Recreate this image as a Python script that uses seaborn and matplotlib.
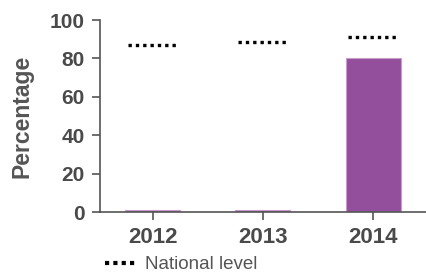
import matplotlib
matplotlib.use("Agg")
import matplotlib.pyplot as plt
import seaborn as sns
import pandas as pd
import numpy as np
from matplotlib.lines import Line2D

years = ["2012", "2013", "2014"]
values = [1, 1, 80]
national = [87, 88.5, 91]

sns.set_theme(style="white")
plt.rcParams['font.family'] = ['Liberation Sans', 'DejaVu Sans']

df = pd.DataFrame({"year": years, "value": values})

fig = plt.figure(figsize=(4.27, 2.73), dpi=100)
ax = fig.add_axes([100/427, 1 - 212/273, 1 - 100/427, (212 - 20)/273])

sns.barplot(data=df, x="year", y="value", color="#944f9c", width=0.5,
            edgecolor="#c79ccb", linewidth=0.8, saturation=1, ax=ax)

pos = np.arange(len(years))
ax.hlines(national, pos - 0.23, pos + 0.23, colors="black",
          linestyles=(0, (1, 1.2)), linewidth=2.4)

ax.set_ylim(0, 100)
ax.set_xlim(-0.48, 2.49)
ax.set_yticks([0, 20, 40, 60, 80, 100])
ax.set_xlabel("")
ax.set_ylabel("Percentage", fontsize=16.5, fontweight="bold", color="#555555", labelpad=12)

for s in ["top", "right"]:
    ax.spines[s].set_visible(False)
for s in ["left", "bottom"]:
    ax.spines[s].set_color("#555555")
    ax.spines[s].set_linewidth(1.2)

ax.tick_params(axis="both", which="both", direction="out", length=6, width=1.2,
               color="#555555", labelcolor="#4a4a4a", left=True, bottom=True)
ax.tick_params(axis="y", labelsize=15, pad=5)
ax.tick_params(axis="x", labelsize=16, pad=5)
for lab in ax.get_xticklabels() + ax.get_yticklabels():
    lab.set_fontweight("bold")

handle = Line2D([0], [0], color="black", linestyle=(0, (1, 1)), linewidth=3)
fig.legend([handle], ["National level"], loc="lower left",
           bbox_to_anchor=(96/427, -0.035), borderaxespad=0.1, frameon=False, fontsize=13.5,
           handlelength=1.6, handletextpad=0.5, labelcolor="#555555")

fig.savefig("out.png", dpi=100)
